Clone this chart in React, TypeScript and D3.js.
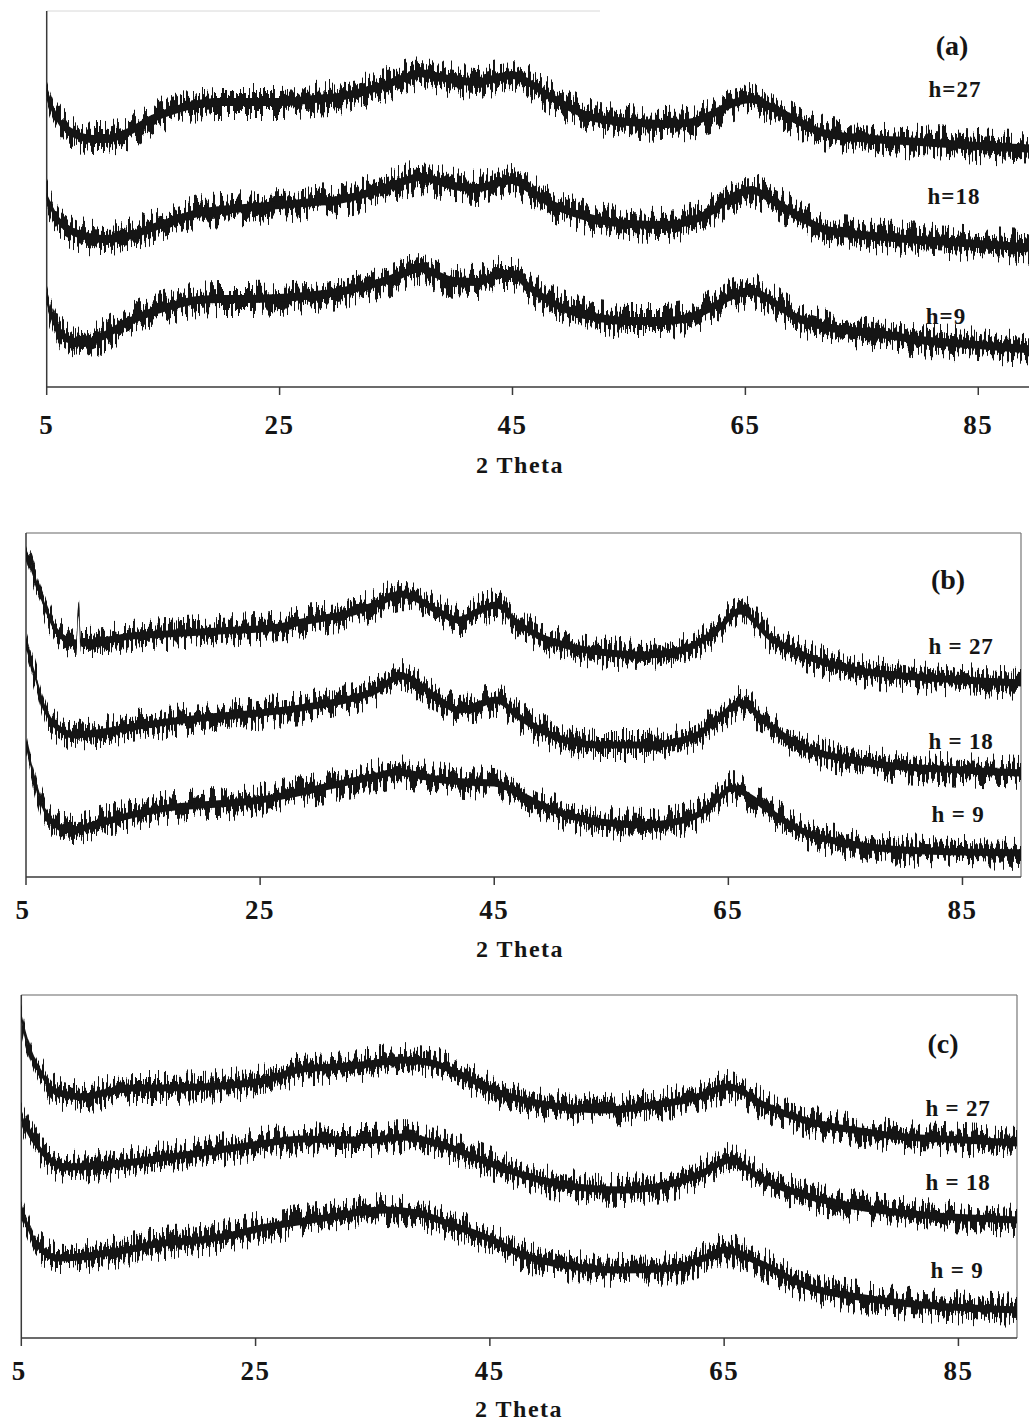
import React from "react";
import * as d3 from "d3";

// ---- Diffraction traces (2θ in degrees, intensity in arbitrary counts) ----
// Panel (a)
const thetaA = [5, 5.5, 6, 7, 8, 9, 10, 12, 14, 16, 18, 20, 22, 25, 28, 30, 32, 34, 36, 37, 38, 40, 42, 44, 45, 46, 48, 50, 52, 55, 58, 60, 62, 64, 65.5, 67, 69, 72, 76, 80, 85, 90];
const a27 = [295, 279, 267, 256, 250, 248, 248, 255, 268, 277, 283, 285, 285, 285, 288, 290, 295, 302, 310, 314, 312, 307, 305, 310, 312, 307, 292, 279, 269, 265, 263, 264, 272, 284, 288, 281, 269, 253, 248, 245, 241, 238];
const a18 = [190, 177, 167, 157, 152, 149, 148, 151, 159, 167, 174, 177, 179, 182, 185, 187, 192, 199, 207, 210, 208, 201, 199, 205, 207, 201, 185, 175, 168, 163, 162, 165, 175, 191, 197, 189, 175, 157, 151, 147, 143, 139];
const a9 = [87, 69, 57, 47, 44, 46, 52, 65, 75, 82, 87, 88, 88, 89, 92, 95, 100, 106, 115, 119, 115, 106, 105, 113, 113, 104, 87, 76, 70, 66, 66, 69, 79, 92, 96, 88, 72, 60, 54, 47, 42, 37];

// Panel (b)
const thetaB27 = [5, 5.6, 6.5, 7.3, 8.5, 9.3, 9.5, 9.7, 10.2, 12, 14, 17, 20, 23, 26, 29, 31, 33, 35, 37, 38, 40, 42, 43.5, 45.2, 47, 49, 51, 54, 58, 61.5, 64, 66, 68.5, 71, 75, 80, 85, 90];
const b27 = [325, 304, 274, 252, 237, 234, 272, 234, 234, 237, 241, 243, 245, 247, 249, 256, 260, 265, 273, 283, 280, 267, 257, 265, 272, 254, 240, 232, 225, 222, 229, 247, 266, 240, 224, 209, 201, 197, 194];
const thetaB18 = [5, 5.5, 6, 6.5, 7, 8, 9, 11, 14, 17, 20, 25, 30, 33, 35, 37, 38, 40, 42, 45.2, 47, 49, 51, 54, 58, 62, 64, 66, 68.5, 71, 75, 80, 85, 90];
const b18 = [232, 212, 192, 172, 159, 147, 142, 144, 150, 155, 159, 164, 172, 179, 187, 201, 197, 180, 167, 177, 161, 147, 137, 132, 132, 140, 157, 174, 152, 132, 118, 110, 107, 104];
const thetaB9 = [5, 5.5, 6, 6.5, 7, 8, 9, 11, 14, 17, 20, 25, 29, 32.5, 35, 36.6, 38, 40, 42.5, 45, 47, 49, 51, 54, 58, 62, 64, 65.3, 67, 69, 71.5, 75, 80, 85, 90];
const b9 = [135, 109, 87, 69, 59, 49, 47, 53, 62, 69, 72, 77, 86, 95, 101, 105, 103, 98, 95, 94, 84, 72, 63, 55, 52, 60, 77, 89, 79, 62, 45, 34, 27, 25, 24];

// Panel (c)
const thetaC27 = [5, 5.5, 6, 6.9, 7.7, 9, 10.3, 12, 14.6, 17, 20.3, 23, 26, 29, 31.7, 34, 37.5, 40, 42.6, 45.2, 47.8, 51.3, 54.7, 59, 62.4, 65.4, 68.4, 71.8, 76, 80.5, 85.5, 90];
const c27 = [321, 298, 281, 261, 248, 243, 241, 245, 250, 250, 251, 253, 258, 269, 271, 273, 278, 275, 263, 248, 238, 231, 228, 233, 240, 251, 233, 218, 208, 201, 198, 195];
const thetaC18 = [5, 5.5, 6, 7, 8.9, 11, 14.6, 17, 20.3, 23, 26, 29, 32, 35, 37.5, 40.9, 44.3, 47.8, 51.3, 56.4, 60.7, 63.3, 65.4, 68.4, 71.8, 77, 82, 86, 90];
const c18 = [221, 208, 198, 183, 171, 172, 176, 180, 185, 190, 195, 199, 198, 198, 201, 193, 178, 163, 153, 148, 155, 166, 178, 158, 143, 130, 123, 120, 118];
const thetaC9 = [5, 5.5, 6, 7, 8, 10, 11.7, 14, 16, 18, 20.3, 23, 25.5, 27.5, 29.7, 32, 34, 36.1, 39.1, 41.7, 45.2, 47.8, 51.3, 56.4, 60.7, 63.3, 65, 68.4, 71.8, 77, 82, 86, 90];
const c9 = [128, 113, 100, 86, 80, 81, 84, 88, 93, 96, 98, 103, 110, 114, 118, 122, 126, 128, 124, 113, 98, 83, 73, 68, 70, 80, 88, 73, 53, 40, 33, 30, 28];

// Axis ticks and labels
const xTicks = [5, 25, 45, 65, 85];
const xTitle = "2 Theta";
const panelTags = ["(a)", "(b)", "(c)"];
const seriesLabelsA = ["h=27", "h=18", "h=9"];
const seriesLabelsBC = ["h = 27", "h = 18", "h = 9"];

type Series = { theta: number[]; counts: number[]; label: string; labelX: number; labelY: number };
type Panel = {
  tag: string;
  left: number; right: number; top: number; bottom: number;
  tickY: number; titleY: number; titleX: number; firstTickShift: number;
  tagX: number; tagY: number;
  box: "open" | "full";
  band: number;
  series: Series[];
};

const panels: Panel[] = [
  {
    tag: panelTags[0], left: 46.7, right: 1036.5, top: 11, bottom: 387,
    tickY: 434, titleY: 473, titleX: 520, firstTickShift: 0, tagX: 952, tagY: 55, box: "open", band: 9,
    series: [
      { theta: thetaA, counts: a27, label: seriesLabelsA[0], labelX: 955, labelY: 97 },
      { theta: thetaA, counts: a18, label: seriesLabelsA[1], labelX: 954, labelY: 204 },
      { theta: thetaA, counts: a9, label: seriesLabelsA[2], labelX: 946, labelY: 324 },
    ],
  },
  {
    tag: panelTags[1], left: 26, right: 1021, top: 533, bottom: 877,
    tickY: 919, titleY: 957, titleX: 520, firstTickShift: -3, tagX: 948, tagY: 589, box: "full", band: 8,
    series: [
      { theta: thetaB27, counts: b27, label: seriesLabelsBC[0], labelX: 961, labelY: 654 },
      { theta: thetaB18, counts: b18, label: seriesLabelsBC[1], labelX: 961, labelY: 749 },
      { theta: thetaB9, counts: b9, label: seriesLabelsBC[2], labelX: 958, labelY: 822 },
    ],
  },
  {
    tag: panelTags[2], left: 21.3, right: 1017, top: 995, bottom: 1338,
    tickY: 1380, titleY: 1417, titleX: 519, firstTickShift: -2, tagX: 943, tagY: 1053, box: "full", band: 8,
    series: [
      { theta: thetaC27, counts: c27, label: seriesLabelsBC[0], labelX: 958, labelY: 1116 },
      { theta: thetaC18, counts: c18, label: seriesLabelsBC[1], labelX: 958, labelY: 1190 },
      { theta: thetaC9, counts: c9, label: seriesLabelsBC[2], labelX: 957, labelY: 1278 },
    ],
  },
];

const FONT = "'Liberation Serif', 'Times New Roman', serif";
const INK = "#151515";
const AXIS = "#3a3a3a";

function PanelView({ p, idx }: { p: Panel; idx: number }) {
  const x = d3.scaleLinear().domain([5, 90]).range([p.left, p.right]);
  const y = d3.scaleLinear().domain([0, p.bottom - p.top]).range([p.bottom, p.top]);

  return (
    <g>
      {/* frame */}
      {p.box === "open" ? (
        <line x1={p.left} x2={600} y1={p.top} y2={p.top} stroke="#d8d8d8" strokeWidth={1} />
      ) : (
        <>
          <line x1={p.left} x2={p.right} y1={p.top} y2={p.top} stroke="#666" strokeWidth={1.2} />
          <line x1={p.right} x2={p.right} y1={p.top} y2={p.bottom} stroke="#777" strokeWidth={1.2} />
        </>
      )}
      <line x1={p.left} x2={p.left} y1={p.top} y2={p.bottom} stroke={AXIS} strokeWidth={1.5} />
      <line x1={p.left} x2={Math.min(p.right, 1029)} y1={p.bottom} y2={p.bottom} stroke={AXIS} strokeWidth={1.5} />

      {/* ticks */}
      {xTicks.map((t, k) => (
        <g key={t}>
          <line x1={x(t)} x2={x(t)} y1={p.bottom} y2={p.bottom + 8} stroke={AXIS} strokeWidth={1.5} />
          <text
            x={x(t) + (k === 0 ? p.firstTickShift : 0)}
            y={p.tickY}
            textAnchor="middle"
            fontFamily={FONT}
            fontWeight="bold"
            fontSize={27}
            letterSpacing={1.5}
            fill={INK}
          >
            {t}
          </text>
        </g>
      ))}
      <text x={p.titleX} y={p.titleY} textAnchor="middle" fontFamily={FONT} fontWeight="bold" fontSize={24} letterSpacing={1.5} fill={INK}>
        {xTitle}
      </text>

      {/* traces: a solid core plus a roughened band that shows the counting noise */}
      {p.series.map((s, i) => {
        const pts = s.theta.map((t, k) => [t, s.counts[k]] as [number, number]);
        const band = (w: number) =>
          d3
            .area<[number, number]>()
            .x((d) => x(d[0]))
            .y0((d) => y(d[1] - w))
            .y1((d) => y(d[1] + w))
            .curve(d3.curveMonotoneX)(pts) ?? "";
        return (
          <g key={i}>
            <path d={band(p.band)} fill={INK} filter={`url(#noise${idx})`} />
            <path d={band(p.band * 0.45)} fill={INK} />
          </g>
        );
      })}

      {/* labels */}
      <text x={p.tagX} y={p.tagY} textAnchor="middle" fontFamily={FONT} fontWeight="bold" fontSize={28} fill={INK}>
        {p.tag}
      </text>
      {p.series.map((s, i) => (
        <text
          key={i}
          x={s.labelX}
          y={s.labelY}
          textAnchor="middle"
          fontFamily={FONT}
          fontWeight="bold"
          fontSize={23}
          letterSpacing={idx === 0 ? 1 : 0.8}
          fill={INK}
        >
          {s.label}
        </text>
      ))}
    </g>
  );
}

export default function App() {
  return (
    <svg
      width={1029}
      height={1425}
      viewBox="0 0 1029 1425"
      style={{ position: "absolute", left: 0, top: 0, background: "#fff" }}
    >
      <defs>
        {panels.map((_, i) => (
          <filter key={i} id={`noise${i}`} x="-2%" y="-40%" width="104%" height="180%" colorInterpolationFilters="sRGB">
            <feTurbulence type="fractalNoise" baseFrequency="0.45 0.012" numOctaves={2} seed={3 + i * 7} result="n" />
            <feColorMatrix
              in="n"
              type="matrix"
              values="2.4 0 0 0 -0.7  0 0 0 0 0.5  0 0 0 0 0  0 0 0 0 1"
              result="m"
            />
            <feDisplacementMap in="SourceGraphic" in2="m" scale={20} xChannelSelector="G" yChannelSelector="R" />
          </filter>
        ))}
      </defs>
      <rect x={0} y={0} width={1029} height={1425} fill="#fff" />
      {panels.map((p, i) => (
        <PanelView key={p.tag} p={p} idx={i} />
      ))}
    </svg>
  );
}
